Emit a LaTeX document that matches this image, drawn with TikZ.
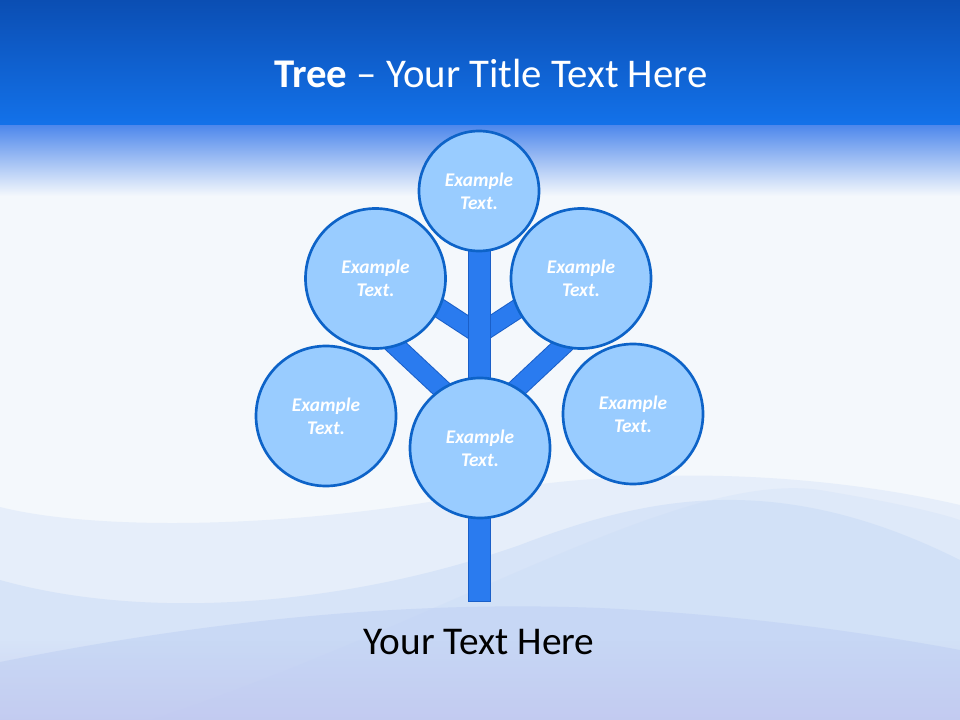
\documentclass[tikz,border=0pt]{standalone}
\usepackage{fontspec}
\setmainfont{Carlito}
\usetikzlibrary{fadings}
\definecolor{bgc}{HTML}{F4F8FC}
\definecolor{bandTop}{HTML}{0B4EB3}
\definecolor{bandBot}{HTML}{1372EA}
\definecolor{fadeA}{HTML}{5089EC}
\definecolor{fadeB}{HTML}{B3C8F5}
\definecolor{waveA}{HTML}{D5E3F8}
\definecolor{waveB}{HTML}{C5D8F6}
\definecolor{waveC}{HTML}{BACCF3}
\definecolor{waveD}{HTML}{C0C3EE}
\definecolor{circF}{HTML}{99CCFF}
\definecolor{circB}{HTML}{0D63C8}
\definecolor{trunkF}{HTML}{2A7BEF}
\definecolor{trunkB}{HTML}{1A5FC8}
\newcommand{\leaffont}{\fontsize{14.5}{17}\selectfont\bfseries\itshape}
\tikzset{
  leaf/.style={circle, draw=circB, line width=2pt, fill=circF,
    minimum size=105pt, inner sep=0pt, outer sep=0pt,
    text=white, font=\leaffont, align=center},
  leafsmall/.style={leaf, minimum size=90pt},
  trunkbox/.style={rectangle, draw=trunkB, line width=0.75pt, fill=trunkF,
    minimum width=16.5pt, minimum height=267pt, inner sep=0pt, outer sep=0pt},
  branch/.style={draw=trunkB, line width=0.75pt, double=trunkF, double distance=13.5pt},
  wave/.style={fill opacity=0.45}
}
\begin{document}
\begin{tikzpicture}[x=0.75pt,y=-0.75pt]
\useasboundingbox (0,0) rectangle (960,720);
% background
\fill[bgc] (0,0) rectangle (960,720);
\shade[top color=bandTop, bottom color=bandBot] (0,0) rectangle (960,126);
\shade[top color=fadeA, middle color=fadeB, bottom color=bgc] (0,126) rectangle (960,196);
% waves
\fill[waveA, wave] (0,507) .. controls (100,532) and (300,528) .. (480,493)
  .. controls (620,468) and (800,468) .. (960,505) -- (960,720) -- (0,720) -- cycle;
\fill[waveA, wave] (150,720) .. controls (450,620) and (680,470) .. (820,490)
  .. controls (880,500) and (930,510) .. (960,520) -- (960,720) -- cycle;
\fill[waveB, wave] (0,580) .. controls (150,622) and (350,605) .. (520,545)
  .. controls (650,495) and (780,470) .. (960,560) -- (960,720) -- (0,720) -- cycle;
\fill[waveC, wave] (0,662) .. controls (200,622) and (400,600) .. (600,608)
  .. controls (750,615) and (880,635) .. (960,650) -- (960,720) -- (0,720) -- cycle;
\fill[waveD, fill opacity=0.6, path fading=north] (0,640) rectangle (960,720);
% junction points
\coordinate (jUp) at (479,334);
\coordinate (jLow) at (479,424);
\coordinate (eUL) at (390,276);
\coordinate (eUR) at (568,276);
\coordinate (fUL) at (385,336);
\coordinate (fUR) at (573,336);
% branches
\draw[branch] (jUp) -- (eUL);
\draw[branch] (jUp) -- (eUR);
\draw[branch] (jLow) -- (fUL);
\draw[branch] (jLow) -- (fUR);
% trunk
\node[trunkbox] (trunk) at (479,423) {};
% leaves
\node[leafsmall] (top) at (479,191) {Example\\Text.};
\node[leaf] (ul) at (375.5,278.5) {Example\\Text.};
\node[leaf] (ur) at (581,278.5) {Example\\Text.};
\node[leaf] (ll) at (326,416) {Example\\Text.};
\node[leaf] (lr) at (633,414) {Example\\Text.};
\node[leaf] (bot) at (480,448) {Example\\Text.};
% texts
\node[anchor=base, text=white, font=\fontsize{30.6}{36}\selectfont, inner sep=0pt] (title) at (491,88) {\textbf{Tree} – Your Title Text Here};
\node[anchor=base, text=black, font=\fontsize{29.5}{35}\selectfont, inner sep=0pt] (caption) at (479,654) {Your Text Here};
\end{tikzpicture}
\end{document}
